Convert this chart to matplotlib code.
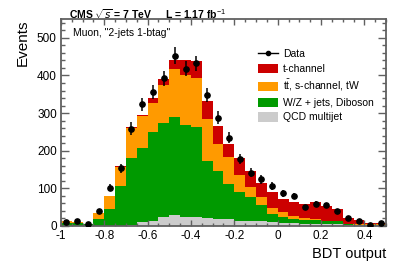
import numpy as np
import matplotlib
matplotlib.use("Agg")
import matplotlib.pyplot as plt
from matplotlib.lines import Line2D
from matplotlib.patches import Patch
from matplotlib.ticker import MultipleLocator, FuncFormatter

plt.rcParams['font.family'] = ['Liberation Sans', 'DejaVu Sans']
plt.rcParams['axes.unicode_minus'] = False
plt.rcParams['mathtext.fontset'] = 'custom'
plt.rcParams['mathtext.rm'] = 'Liberation Sans'

bin_edges = np.round(np.arange(-1.0, 0.5001, 0.05), 3)

qcd = [1, 1, 0, 0, 1, 1, 3, 11, 14, 25, 28, 25, 25, 20, 18, 18, 14, 12, 12, 10,
       8, 7, 6, 6, 5, 5, 3, 3, 2, 2]
wz = [7, 6, 5, 18, 43, 105, 179, 195, 236, 249, 262, 244, 237, 152, 129, 93, 77, 64, 44, 21,
      17, 12, 10, 9, 7, 7, 1, 0, 1, 1]
top = [5, 3, 0, 16, 35, 51, 78, 85, 78, 101, 126, 133, 132, 112, 70, 73, 44, 28, 22, 16,
       12, 8, 4, 3, 1, 0, 2, 2, 1, 1]
tchan = [1, 1, 0, 1, 1, 3, 4, 5, 12, 16, 26, 38, 45, 48, 49, 33, 45, 43, 35, 43,
         36, 37, 38, 47, 40, 32, 14, 10, 3, 5]
data = [11, 12, 6, 40, 102, 153, 259, 323, 356, 393, 453, 418, 432, 347, 288, 235, 179, 142, 124, 107,
        87, 80, 50, 58, 55, 40, 20, 13, 3, 9]

labels = ['QCD multijet', 'W/Z + jets, Diboson', r't$\bar{\rm t}$, s-channel, tW', 't-channel']
colors = ['#cccccc', '#009a00', '#ff9a00', '#cc0000']

W, H = 407, 276
fig = plt.figure(figsize=(W / 100, H / 100), dpi=100)
ax = fig.add_axes([61 / W, 1 - 226 / H, 325 / W, 207 / H])

left = bin_edges[:-1]
width = np.diff(bin_edges)
bottom = np.zeros(len(left))
for vals, col in zip([qcd, wz, top, tchan], colors):
    v = np.array(vals, dtype=float)
    ax.bar(left, v, width=width, bottom=bottom, align='edge', color=col,
           edgecolor='none', linewidth=0)
    bottom = bottom + v

centers = 0.5 * (bin_edges[:-1] + bin_edges[1:])
d = np.array(data, dtype=float)
ax.errorbar(centers, d, yerr=np.sqrt(d), fmt='o', color='black', ms=3.8,
            elinewidth=1.1, capsize=0, zorder=5)

ax.set_xlim(-1.0, 0.5)
ax.set_ylim(0, 550)

spine_col = '#606060'
for s in ax.spines.values():
    s.set_color(spine_col)
    s.set_linewidth(1.3)

ax.xaxis.set_major_locator(MultipleLocator(0.2))
ax.xaxis.set_minor_locator(MultipleLocator(0.05))
ax.yaxis.set_major_locator(MultipleLocator(100))
ax.yaxis.set_minor_locator(MultipleLocator(20))
ax.xaxis.set_major_formatter(FuncFormatter(lambda v, p: ('%g' % round(v, 2))))
ax.tick_params(axis='both', which='both', direction='in', top=True, right=True,
               color=spine_col, labelsize=8.5, labelcolor='black')
ax.tick_params(axis='x', which='major', length=4.5, width=1.0, pad=3)
ax.tick_params(axis='x', which='minor', length=2.3, width=1.0)
ax.tick_params(axis='y', which='major', length=6.0, width=1.0, pad=3)
ax.tick_params(axis='y', which='minor', length=3.0, width=1.0)

fig.text(22.5 / W, 1 - 20 / H, 'Events', rotation=90, ha='center', va='top', fontsize=11)
fig.text(386 / W, 1 - 254 / H, 'BDT output', ha='right', va='center', fontsize=10.5)

fig.text(69 / W, 1 - 14 / H, r'CMS $\sqrt{s}$ = 7 TeV', ha='left', va='center',
         fontsize=7.5, fontweight='bold')
fig.text(165 / W, 1 - 14 / H, r'L = 1.17 fb$^{-1}$', ha='left', va='center',
         fontsize=7.5, fontweight='bold')
fig.text(73 / W, 1 - 32.5 / H, 'Muon, "2-jets 1-btag"', ha='left', va='center', fontsize=7.5)

handles = [Line2D([0], [0], color='black', marker='o', ms=3, lw=1)]
handles += [Patch(facecolor=c, edgecolor='none') for c in colors[::-1]]
leg_labels = ['Data'] + labels[::-1]
ax.legend(handles, leg_labels, loc='upper left', bbox_to_anchor=(258 / W, 1 - 49 / H),
          bbox_transform=fig.transFigure, frameon=False, fontsize=7.5,
          handlelength=1.9, handleheight=1.0, labelspacing=0.42, handletextpad=0.5,
          borderpad=0, borderaxespad=0)

fig.savefig('out.png', dpi=100)
